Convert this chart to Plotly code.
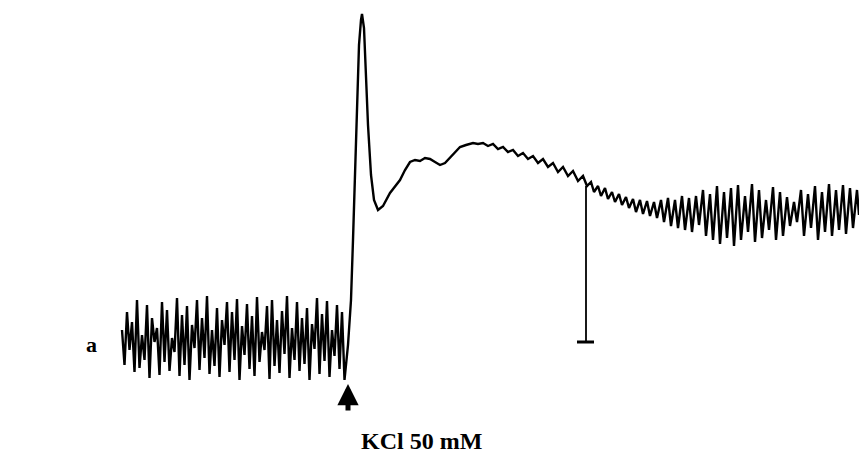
import plotly.graph_objects as go

# Trace: time (horizontal position) and tension (vertical position, screen units, down = larger)
base_time = [122,124.5,127,129.5,132,134.5,137,139.5,142,144.5,147,149.5,152,154.5,157,159.5,162,164.5,167,169.5,
             172,174.5,177,179.5,182,184.5,187,189.5,192,194.5,197,199.5,202,204.5,207,209.5,212,214.5,217,219.5,
             222,224.5,227,229.5,232,234.5,237,239.5,242,244.5,247,249.5,252,254.5,257,259.5,262,264.5,267,269.5,
             272,274.5,277,279.5,282,284.5,287,289.5,292,294.5,297,299.5,302,304.5,307,309.5,312,314.5,317,319.5,
             322,324.5,327,329.5,332,334.5,337,339.5,342,344.5]
base_tension = [330,365,312,350,322,372,300,368,335,360,
                305,378,318,342,328,375,302,362,310,371,
                338,352,298,376,315,365,306,380,325,348,
                300,370,318,358,296,374,330,366,308,377,
                320,345,302,372,312,360,299,380,326,355,
                304,369,316,376,297,362,332,350,306,379,
                300,366,320,373,311,354,296,378,328,360,
                302,371,318,364,308,380,324,349,298,374,
                314,361,301,377,330,356,305,369,312,380]

kcl_time = [348,351,353,355,357,359,361,362,364,366,368,371,374,378,383,390,395,400,405,410,415,420,
            425,430,435,440,445,450,455,460,466,473,478]
kcl_tension = [345,300,240,170,100,45,20,14,28,75,125,175,200,210,206,193,187,180,170,162,160,161,
               158,159,162,165,163,158,152,147,145,143,144]

decay_time = [483,488,493,498,503,508,513,518,523,528,533,538,543,548,553,558,563,568,573,578,583,587]
decay_tension = [143,146,144,149,147,152,150,156,153,159,156,163,159,167,163,172,167,176,171,181,176,186]

late_time = [591,594,598,601,605,608,612,615,619,622,626,629,633,636,640,643,647,650,654,657,
             661,664,668,671,675,678,682,685,689,692,696,699,703,706,710,713,717,720,724,727,
             731,734,738,741,745,748,752,755,759,762,766,769,773,776,780,783,787,790,794,797,
             801,804,808,811,815,818,822,825,829,832,836,839,843,846,850,853,857,859]
late_tension = [182,192,186,196,188,199,192,202,194,205,197,208,199,212,200,214,201,216,202,218,
                200,222,198,226,200,228,196,230,198,232,196,225,190,236,194,240,186,244,192,238,
                188,246,185,240,196,232,184,242,190,238,200,230,187,240,192,236,197,226,202,222,
                190,236,194,228,186,240,192,232,184,236,190,230,185,234,188,228,190,215]

scale_bar_time = [586, 586]
scale_bar_tension = [186, 342]
scale_cap_time = [577, 594]
scale_cap_tension = [342, 342]

label_panel = "a"
label_stim = "KCl 50 mM"

t = base_time + kcl_time + decay_time + late_time
v = base_tension + kcl_tension + decay_tension + late_tension

fig = go.Figure()
fig.add_trace(go.Scatter(x=t, y=v, mode="lines",
                         line=dict(color="black", width=2.4), hoverinfo="skip"))
fig.add_trace(go.Scatter(x=scale_bar_time, y=scale_bar_tension, mode="lines",
                         line=dict(color="black", width=1.8), hoverinfo="skip"))
fig.add_trace(go.Scatter(x=scale_cap_time, y=scale_cap_tension, mode="lines",
                         line=dict(color="black", width=3), hoverinfo="skip"))

# stimulus arrow
fig.add_annotation(x=348, y=384, ax=348, ay=412, xref="x", yref="y", axref="x", ayref="y",
                   text="", showarrow=True, arrowhead=2, arrowsize=0.85, arrowwidth=5,
                   arrowcolor="black")
fig.add_annotation(x=421, y=441, xref="x", yref="y", text=label_stim, showarrow=False,
                   font=dict(family="Liberation Serif", size=24, color="black", weight="bold"))
fig.add_annotation(x=91, y=344, xref="x", yref="y", text=label_panel, showarrow=False,
                   font=dict(family="Liberation Serif", size=22, color="black", weight="bold"))

fig.update_layout(
    width=859, height=474,
    margin=dict(l=0, r=0, t=0, b=0),
    paper_bgcolor="white", plot_bgcolor="white",
    showlegend=False,
    xaxis=dict(range=[0, 859], visible=False, fixedrange=True),
    yaxis=dict(range=[474, 0], visible=False, fixedrange=True),
)
fig.write_html("out.html")
